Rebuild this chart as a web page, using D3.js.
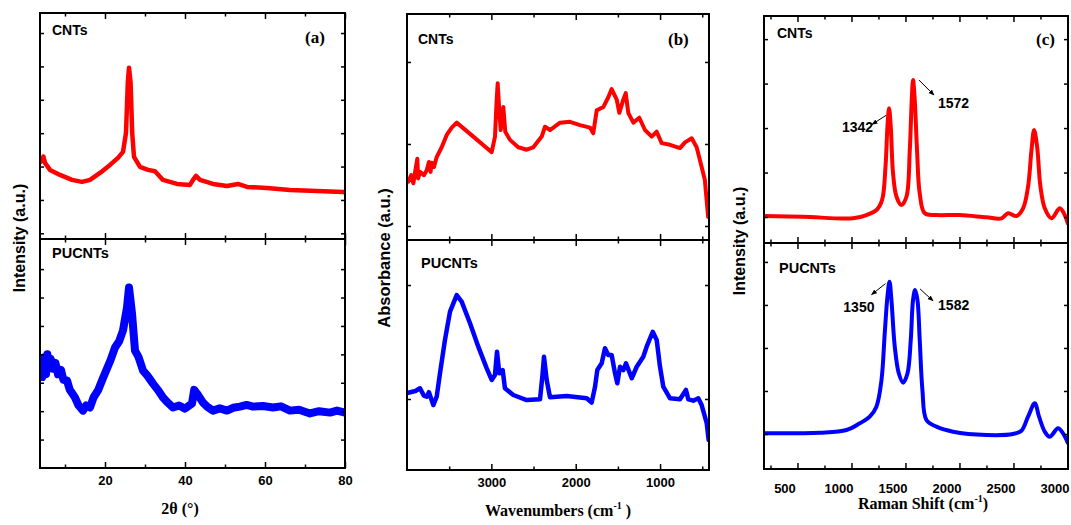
<!DOCTYPE html>
<html>
<head>
<meta charset="utf-8">
<script src="https://cdn.jsdelivr.net/npm/d3@7"></script>
<style>
  body { margin: 0; background: #fff; }
  svg text { font-family: "Liberation Sans", Arial, sans-serif; font-weight: bold; fill: #000; }
  svg text.serif { font-family: "Liberation Serif", "Times New Roman", serif; }
</style>
</head>
<body>
<svg id="fig" width="1071" height="525"></svg>
<script>
// ---- data (y in arbitrary units, 1 unit = one tick step) ----
// (a) XRD, 2theta in degrees
const xrdCnt = [[4,3.15],[4.6,3.3],[5,3.11],[6.25,2.90],[8.75,2.75],[11.75,2.60],[14.25,2.54],[16.25,2.60],
  [18.75,2.81],[21.25,3.05],[23.25,3.26],[24.5,3.44],[25.25,4.01],[25.7,5.51],[26,5.96],[26.4,5.51],
  [26.8,4.01],[27.25,3.29],[28.75,2.99],[30.75,2.90],[32.5,2.86],[34.5,2.60],[38,2.48],[41.25,2.45],
  [42,2.60],[42.75,2.72],[43.75,2.60],[47,2.48],[50.5,2.42],[53.25,2.48],[55.5,2.39],[60.5,2.36],
  [66.25,2.30],[73,2.27],[79.5,2.24],[80,2.22]];
const xrdPu = [[4.3,3.2],[4.8,3.9],[5.25,3.3],[5.6,4.0],[6,3.5],[6.4,3.85],[7,3.5],[7.6,3.7],[8.25,3.3],
  [9,3.45],[9.6,3.1],[10.5,3.08],[11.2,2.75],[12.5,2.48],[13.4,2.2],[14.5,2.02],[15.3,2.2],[16.25,2.13],
  [17.2,2.5],[18.25,2.73],[19.3,3.1],[20.5,3.50],[21.4,3.8],[22.5,4.24],[23.5,4.45],[24.5,4.84],[25.5,5.65],
  [26,6.35],[26.75,5.44],[27.5,4.13],[28.4,3.9],[29.5,3.43],[30.6,3.25],[32,2.97],[33.2,2.75],[34.5,2.48],
  [35.7,2.3],[37,2.13],[38.5,2.2],[40,2.09],[41.75,2.27],[42.3,2.75],[43,2.62],[44.5,2.30],[45.6,2.15],
  [47,2.02],[48.7,2.1],[50.5,2.02],[52,2.12],[53.75,2.16],[55.4,2.22],[57,2.16],[59.5,2.18],[62,2.13],
  [64,2.17],[66.25,2.02],[68.5,2.05],[71.25,1.92],[73.5,2.0],[76.25,1.95],[78,2.02],[80,1.95]];
// (b) FTIR, wavenumber in cm-1
const ftirCnt = [[3985,1.54],[3950,1.62],[3925,1.52],[3905,1.65],[3878,1.82],[3868,1.58],[3846,1.66],
  [3800,1.62],[3766,1.68],[3740,1.78],[3720,1.66],[3707,1.77],[3680,1.72],[3648,1.84],[3589,1.96],
  [3529,2.11],[3470,2.20],[3411,2.26],[3214,2.09],[2996,1.90],[2957,2.09],[2937,2.54],[2925,2.74],
  [2906,2.41],[2889,2.17],[2858,2.45],[2835,2.15],[2779,2.05],[2681,1.96],[2581,1.93],[2503,1.96],
  [2403,2.09],[2364,2.21],[2305,2.17],[2186,2.26],[2068,2.27],[1949,2.23],[1831,2.20],[1792,2.13],
  [1751,2.41],[1673,2.45],[1614,2.57],[1574,2.67],[1514,2.54],[1483,2.38],[1436,2.54],[1407,2.62],
  [1377,2.38],[1317,2.26],[1246,2.32],[1179,2.17],[1099,2.09],[1040,2.15],[981,2.01],[882,1.99],
  [764,1.95],[705,2.02],[625,2.07],[566,1.96],[507,1.72],[469,1.56],[430,1.11]];
const ftirPu = [[3985,1.055],[3900,1.07],[3846,1.094],[3800,1.03],[3766,1.02],[3740,1.06],[3688,0.947],
  [3648,1.02],[3609,1.225],[3550,1.518],[3490,1.766],[3411,1.912],[3352,1.854],[3253,1.664],[3155,1.459],
  [3055,1.269],[2996,1.167],[2957,1.211],[2933,1.415],[2906,1.225],[2866,1.254],[2839,1.094],[2740,1.035],
  [2581,0.991],[2423,0.997],[2392,1.225],[2376,1.371],[2344,1.167],[2305,1.015],[2107,1.026],[1870,1.006],
  [1811,0.968],[1771,1.108],[1744,1.254],[1692,1.313],[1653,1.445],[1614,1.386],[1574,1.386],[1534,1.225],
  [1507,1.138],[1475,1.283],[1436,1.254],[1404,1.313],[1336,1.182],[1277,1.283],[1199,1.371],[1159,1.459],
  [1087,1.590],[1040,1.518],[1001,1.283],[962,1.108],[882,1.006],[764,0.997],[693,1.079],[665,0.997],
  [606,0.985],[547,1.006],[507,0.947],[447,0.787],[424,0.640]];
// (c) Raman, shift in cm-1
const ramanCnt = [[197,1.022],[552,1.007],[1015,0.971],[1139,1.045],[1231,1.157],[1283,1.382],[1315,2.130],
  [1333,3.029],[1348,3.443],[1364,3.029],[1385,1.982],[1417,1.456],[1463,1.270],[1509,1.456],[1540,2.506],
  [1558,3.629],[1570,4.079],[1586,3.629],[1607,2.506],[1632,1.533],[1679,1.083],[1787,1.045],[2003,1.045],
  [2250,0.993],[2389,0.971],[2450,1.083],[2528,1.022],[2589,1.196],[2635,1.681],[2667,2.506],[2691,2.955],
  [2719,2.580],[2750,1.681],[2790,1.196],[2852,0.971],[2929,1.196],[2975,1.045],[3003,0.858]];
const ramanPu = [[197,1.016],[706,1.030],[954,1.093],[1077,1.249],[1169,1.402],[1231,1.635],[1278,2.256],
  [1308,3.342],[1333,4.193],[1352,4.542],[1370,4.116],[1401,3.030],[1438,2.412],[1478,2.193],[1519,2.412],
  [1549,3.186],[1570,4.116],[1589,4.349],[1611,4.116],[1632,3.186],[1657,2.023],[1694,1.326],[1787,1.170],
  [1941,1.053],[2250,0.977],[2496,1.000],[2574,1.077],[2635,1.402],[2697,1.714],[2737,1.402],[2790,1.053],
  [2836,0.937],[2913,1.133],[2959,1.016],[3003,0.80]];
const ramanCntPeaks = [[1348,3.443,'1342'],[1570,4.079,'1572']];
const ramanPuPeaks = [[1352,4.542,'1350'],[1589,4.349,'1582']];

// tick values
const xrdMajor = [20, 40, 60, 80], xrdMinor = [10, 30, 50, 70];
const ftirMajor = [3000, 2000, 1000], ftirMinor = [3500, 2500, 1500, 500];
const ramanMajor = [500, 1000, 1500, 2000, 2500, 3000], ramanMinor = [250, 750, 1250, 1750, 2250, 2750];

const svg = d3.select('#fig');
svg.append('defs').append('marker')
  .attr('id', 'arrow').attr('viewBox', '0 0 10 10').attr('refX', 9).attr('refY', 5)
  .attr('markerWidth', 6).attr('markerHeight', 6).attr('orient', 'auto')
  .append('path').attr('d', 'M0,1L10,5L0,9Z').attr('fill', '#000');

function tickSet(g, axisFn, scale, values, size, tr) {
  g.append('g').attr('transform', tr)
    .call(axisFn(scale).tickValues(values).tickSize(size).tickSizeOuter(0).tickFormat(''))
    .call(a => a.select('.domain').remove())
    .selectAll('line').attr('stroke', '#000').attr('stroke-width', 1.5);
}

function drawPanel(c, idx) {
  const g = svg.append('g');
  const x = d3.scaleLinear().domain(c.xDomain).range([c.left, c.right]);
  const subs = [
    { y: d3.scaleLinear().domain(c.up.domain).range([c.mid, c.top]), top: c.top, bot: c.mid, s: c.up },
    { y: d3.scaleLinear().domain(c.low.domain).range([c.bot, c.mid]), top: c.mid, bot: c.bot, s: c.low }
  ];
  subs.forEach((sp, i) => {
    const id = 'clip' + idx + '_' + i;
    svg.select('defs').append('clipPath').attr('id', id)
      .append('rect').attr('x', c.left).attr('y', sp.top).attr('width', c.right - c.left).attr('height', sp.bot - sp.top);
    const line = d3.line().x(d => x(d[0])).y(d => sp.y(d[1])).curve(c.curve);
    g.append('path').datum(sp.s.data)
      .attr('clip-path', `url(#${id})`)
      .attr('d', line).attr('fill', 'none')
      .attr('stroke', sp.s.color).attr('stroke-width', sp.s.width)
      .attr('stroke-linejoin', 'round').attr('stroke-linecap', 'round');

    // ticks on all four sides, pointing inward
    tickSet(g, d3.axisTop, x, c.major, -6, `translate(0,${sp.top})`);
    tickSet(g, d3.axisTop, x, c.minor, -3.5, `translate(0,${sp.top})`);
    tickSet(g, d3.axisBottom, x, c.major, -6, `translate(0,${sp.bot})`);
    tickSet(g, d3.axisBottom, x, c.minor, -3.5, `translate(0,${sp.bot})`);
    tickSet(g, d3.axisLeft, sp.y, sp.s.ticks, -4, `translate(${c.left},0)`);
    tickSet(g, d3.axisRight, sp.y, sp.s.ticks, -4, `translate(${c.right},0)`);

    g.append('rect').attr('x', c.left).attr('y', sp.top)
      .attr('width', c.right - c.left).attr('height', sp.bot - sp.top)
      .attr('fill', 'none').attr('stroke', '#000').attr('stroke-width', 2);

    g.append('text').attr('x', c.left + c.nameDx[i]).attr('y', sp.top + c.nameDy[i])
      .attr('font-size', i ? 14.5 : 14).text(i ? 'PUCNTs' : 'CNTs');

    if (sp.s.peaks) {
      sp.s.peaks.forEach((p, k) => {
        const o = sp.s.noteOff[k];
        const px = x(p[0]), py = sp.y(p[1]);
        g.append('line').attr('x1', px + o[0]).attr('y1', py + o[1])
          .attr('x2', px + o[2]).attr('y2', py + o[3])
          .attr('stroke', '#000').attr('stroke-width', 1).attr('marker-end', 'url(#arrow)');
        g.append('text').attr('x', px + o[4]).attr('y', py + o[5])
          .attr('text-anchor', o[6]).attr('font-size', 14).text(p[2]);
      });
    }
  });

  // tick labels under the lower frame
  const lab = g.append('g').attr('transform', `translate(0,${c.bot})`)
    .call(d3.axisBottom(x).tickValues(c.major).tickSize(0).tickPadding(c.labPad).tickFormat(d3.format('d')));
  lab.select('.domain').remove();
  lab.selectAll('text').attr('font-family', null).attr('font-size', 13).attr('dx', c.labDx);

  // panel letter
  g.append('text').attr('class', 'serif').attr('x', c.letterX).attr('y', c.letterY)
    .attr('font-size', 17).text(c.letter);

  // axis titles
  const xt = g.append('text').attr('class', 'serif').attr('x', c.xTitle[0]).attr('y', c.xTitle[1])
    .attr('text-anchor', 'middle').attr('font-size', 16);
  xt.append('tspan').text(c.xTitleText[0]);
  if (c.xTitleText.length > 1) {
    xt.append('tspan').attr('font-size', 10).attr('dy', -7).text(c.xTitleText[1]);
    xt.append('tspan').attr('dy', 7).text(c.xTitleText[2]);
  }
  g.append('text').attr('transform', `translate(${c.yTitle[0]},${c.yTitle[1]}) rotate(-90)`)
    .attr('text-anchor', 'middle').attr('font-size', c.yTitleSize).text(c.yTitleText);
}

const panels = [
  { left: 40, right: 345, top: 13, mid: 239, bot: 468, xDomain: [3.75, 80], curve: d3.curveLinear,
    major: xrdMajor, minor: xrdMinor, labPad: 8, labDx: 0,
    up: { domain: [0.83, 7.6], ticks: [1, 2, 3, 4, 5, 6, 7], data: xrdCnt, color: '#ff0000', width: 4.5 },
    low: { domain: [0, 8.06], ticks: [1, 2, 3, 4, 5, 6, 7], data: xrdPu, color: '#0000ff', width: 8 },
    nameDx: [12, 12], nameDy: [22, 19], letter: '(a)', letterX: 305, letterY: 43,
    xTitle: [180, 514], xTitleText: ['2\u03B8 (\u00B0)'], yTitle: [25, 238], yTitleText: 'Intensity (a.u.)', yTitleSize: 16 },
  { left: 407, right: 709, top: 14, mid: 240, bot: 470, xDomain: [4000, 420], curve: d3.curveLinear,
    major: ftirMajor, minor: ftirMinor, labPad: 8, labDx: 0,
    up: { domain: [0.829, 3.585], ticks: [1, 2, 3], data: ftirCnt, color: '#ff0000', width: 4 },
    low: { domain: [0.377, 2.395], ticks: [1, 2], data: ftirPu, color: '#0000ff', width: 4.5 },
    nameDx: [11, 14], nameDy: [30, 28], letter: '(b)', letterX: 668, letterY: 45,
    xTitle: [558, 516], xTitleText: ['Wavenumbers (cm', '-1', ' )'], yTitle: [390, 258], yTitleText: 'Absorbance (a.u.)', yTitleSize: 16.5 },
  { left: 764, right: 1068, top: 16, mid: 243, bot: 469, xDomain: [190, 3005], curve: d3.curveCatmullRom,
    major: ramanMajor, minor: ramanMinor, labPad: 15, labDx: -13,
    up: { domain: [0.416, 5.52], ticks: [1, 2, 3, 4, 5], data: ramanCnt, color: '#ff0000', width: 4,
      peaks: ramanCntPeaks, noteOff: [[-3, 7, -17, 16, -16, 24, 'end'], [6, 0, 21, 15, 25, 28, 'start']] },
    low: { domain: [0.186, 5.44], ticks: [1, 2, 3, 4, 5], data: ramanPu, color: '#0000ff', width: 4,
      peaks: ramanPuPeaks, noteOff: [[-4, 2, -18, 13, -15, 30, 'end'], [5, -1, 18, 11, 23, 20, 'start']] },
    nameDx: [13, 15], nameDy: [22, 30], letter: '(c)', letterX: 1036, letterY: 45,
    xTitle: [923, 509], xTitleText: ['Raman Shift (cm', '-1', ')'], yTitle: [745, 241], yTitleText: 'Intensity (a.u.)', yTitleSize: 16 }
];

panels.forEach(drawPanel);
</script>
</body>
</html>
